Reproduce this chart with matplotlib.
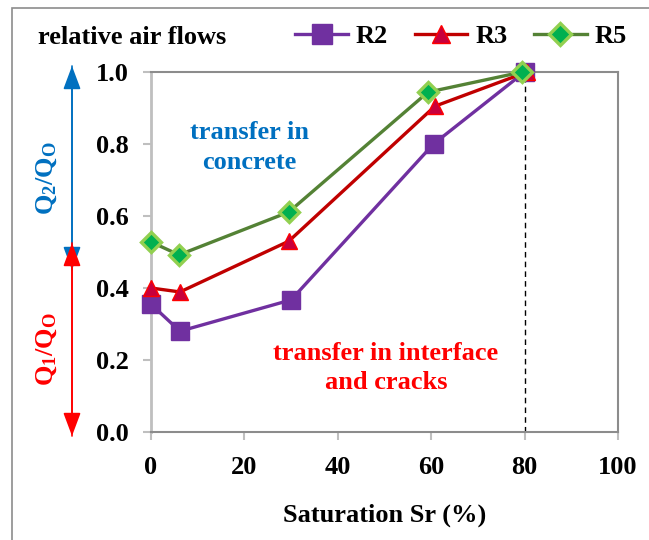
import matplotlib
matplotlib.use('Agg')
import matplotlib.pyplot as plt
from matplotlib.patches import Rectangle, FancyArrowPatch

# data
r2_x = [0, 6.2, 30, 60.5, 80]
r2_y = [0.355, 0.28, 0.367, 0.80, 1.0]
r3_x = [0, 6.2, 29.5, 60.8, 80.5]
r3_y = [0.40, 0.389, 0.53, 0.905, 1.0]
r5_x = [0, 6.0, 29.5, 59.3, 79.5]
r5_y = [0.528, 0.492, 0.611, 0.944, 1.0]
x_ticks = [0, 20, 40, 60, 80, 100]
y_ticks = [0.0, 0.2, 0.4, 0.6, 0.8, 1.0]

plt.rcParams['font.family'] = ['Liberation Serif', 'DejaVu Serif']
plt.rcParams['font.weight'] = 'bold'
plt.rcParams['mathtext.fontset'] = 'custom'
plt.rcParams['mathtext.rm'] = 'Liberation Serif'
plt.rcParams['mathtext.it'] = 'Liberation Serif'

fig = plt.figure(figsize=(6.49, 5.40), dpi=100)
ax = fig.add_axes([151 / 649, 1 - 432 / 540, 467 / 649, 360 / 540])

# outer chart border
fig.patches.append(Rectangle((12 / 649, -0.05), 1.0, 1 - 8 / 540 + 0.05,
                             transform=fig.transFigure, fill=False,
                             edgecolor='#8c8c8c', linewidth=1.2))

ax.plot(r2_x, r2_y, color='#7030A0', lw=2.4, marker='s', ms=13,
        mfc='#7030A0', mec='#7030A0', label='R2', zorder=3, clip_on=False)
ax.plot(r3_x, r3_y, color='#C00000', lw=2.4, marker='^', ms=12,
        mfc='#C8003C', mec='#FF0000', label='R3', zorder=4, clip_on=False)
ax.plot(r5_x, r5_y, color='#548235', lw=2.4, marker='D', ms=10,
        mfc='#00B050', mec='#92D050', mew=2.4, label='R5', zorder=5,
        clip_on=False)

ax.plot([80, 80], [0, 1], color='black', lw=1, ls=(0, (4, 3)), zorder=2)

ax.set_xlim(0, 100)
ax.set_ylim(0, 1.0)
ax.set_xticks(x_ticks)
ax.set_yticks(y_ticks)
ax.set_xticklabels([str(v) for v in x_ticks])
ax.set_yticklabels([f'{v:.1f}' for v in y_ticks])
ax.tick_params(axis='both', labelsize=19, colors='#bfbfbf', labelcolor='black',
               length=6, width=1.5, direction='out')
ax.tick_params(axis='x', pad=11)
ax.tick_params(axis='y', pad=10)
for lab in ax.get_xticklabels() + ax.get_yticklabels():
    lab.set_fontweight('bold')

ax.spines['left'].set_color('#bfbfbf')
ax.spines['left'].set_linewidth(2)
for side in ['bottom', 'top', 'right']:
    ax.spines[side].set_color('#8c8c8c')
    ax.spines[side].set_linewidth(1.5)

ax.set_xlabel('Saturation Sr (%)', fontsize=19, fontweight='bold', labelpad=18)

ax.text(21, 0.79, 'transfer in\nconcrete', color='#0070C0', fontsize=19,
        fontweight='bold', ha='center', va='center', linespacing=1.4)
ax.text(50.3, 0.178, 'transfer in interface\nand cracks', color='#FF0000',
        fontsize=19, fontweight='bold', ha='center', va='center',
        linespacing=1.35)

fig.text(132 / 649, 1 - 37 / 540, 'relative air flows', fontsize=19,
         fontweight='bold', ha='center', va='center')

leg = fig.legend(loc='center', bbox_to_anchor=(461 / 649, 1 - 36 / 540),
                 ncol=3, frameon=False, fontsize=19, handlelength=2.0,
                 columnspacing=1.0, handletextpad=0.3, markerscale=1.1)
for t in leg.get_texts():
    t.set_fontweight('bold')

# double arrows on the left
head = '-|>,head_length=1.2,head_width=0.45'
arrows = [((66, 270), '#0070C0'), ((270, 66), '#0070C0'),
          ((243, 436), '#FF0000'), ((436, 243), '#FF0000')]
for (ya, yb), col in arrows:
    fig.add_artist(FancyArrowPatch(
        (72 / 649, 1 - ya / 540), (72 / 649, 1 - yb / 540),
        transform=fig.transFigure, arrowstyle=head, mutation_scale=12,
        color=col, lw=1.2, shrinkA=0, shrinkB=0))
fig.text(47 / 649, 1 - 178 / 540, r'Q$_2$/Q$_\mathrm{O}$', color='#0070C0',
         fontsize=19, rotation=90, ha='center', va='center')
fig.text(47 / 649, 1 - 349 / 540, r'Q$_1$/Q$_\mathrm{O}$', color='#FF0000',
         fontsize=19, rotation=90, ha='center', va='center')

plt.savefig('out.png', dpi=100)
plt.close()
